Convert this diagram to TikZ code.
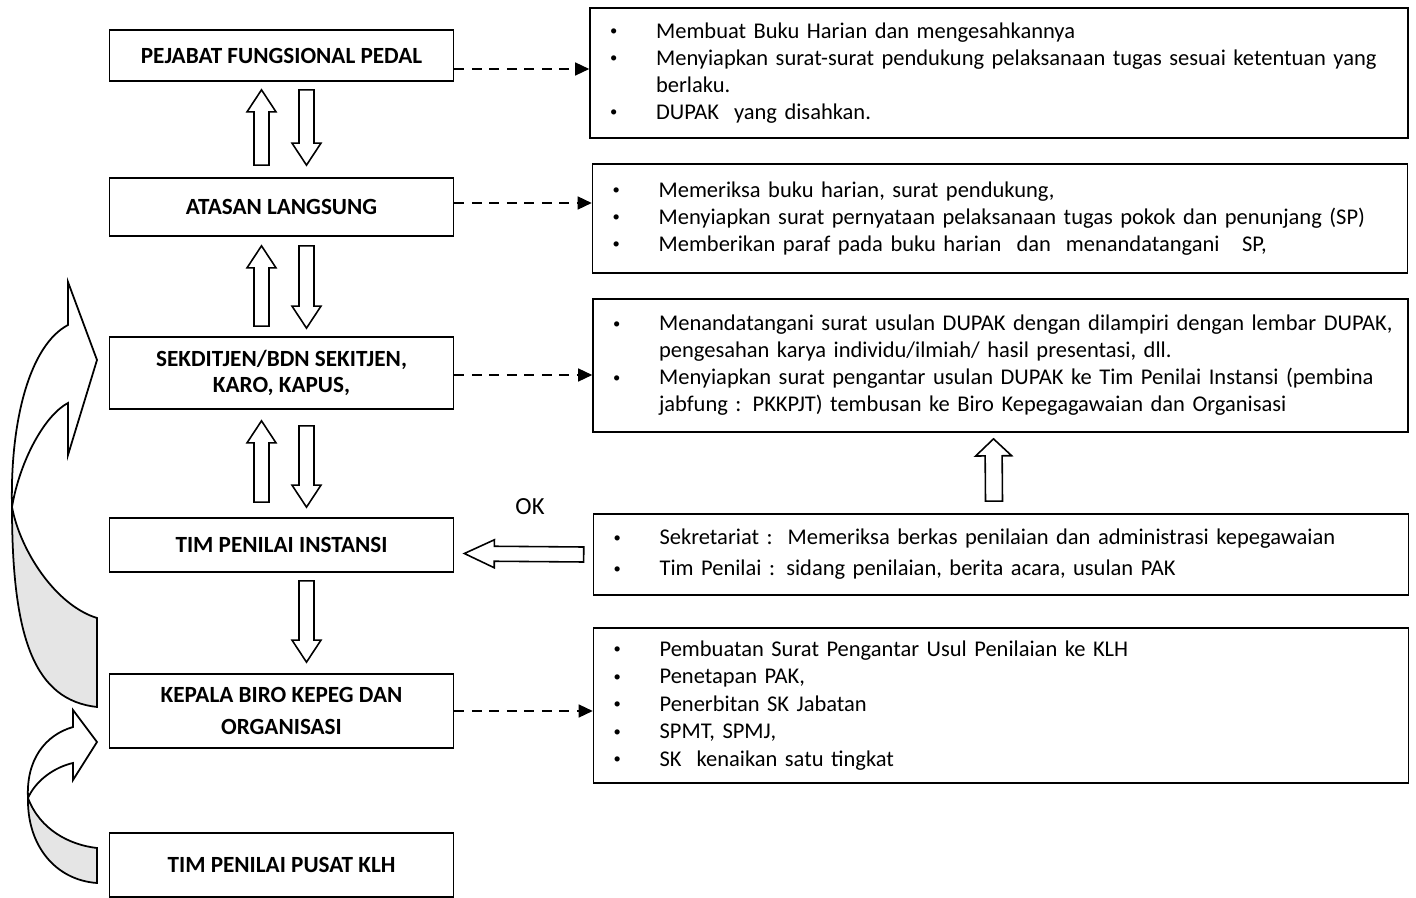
\documentclass[tikz,border=0pt]{standalone}
\usepackage{fontspec}
\usepackage{graphicx}
\setmainfont{Carlito}
\usetikzlibrary{arrows.meta,calc}
\newlength{\bulpre}\setlength{\bulpre}{0.4cm}
\newlength{\bulind}\setlength{\bulind}{1.32cm}
\newcommand{\bitem}[1]{\noindent\hangindent=\bulind\hangafter=1\makebox[\bulind][l]{\hspace{\bulpre}\raisebox{0.12em}{\scalebox{0.65}{\textbullet}}}#1\par}
\tikzset{
  leftbox/.style={rectangle,draw,line width=1pt,minimum width=6.88cm,align=center,font=\bfseries\fontsize{13.2}{15}\selectfont},
  rightbox/.style={rectangle,draw,line width=1pt,inner xsep=0pt,text width=16.3cm,align=left,font=\fontsize{12.8}{15.4}\selectfont},
  dasharrow/.style={draw,line width=0.8pt,dash pattern=on 0.2cm off 0.15cm,-{Triangle[length=0.28cm,width=0.26cm]}},
  blockarrow/.style n args={3}{draw,fill=white,line width=0.9pt,
    to path={($(\tikztostart)!#1!90:(\tikztotarget)$)
      -- ($($(\tikztotarget)!#3!(\tikztostart)$)!#1!90:(\tikztotarget)$)
      -- ($($(\tikztotarget)!#3!(\tikztostart)$)!#2!90:(\tikztotarget)$)
      -- (\tikztotarget)
      -- ($($(\tikztotarget)!#3!(\tikztostart)$)!#2!-90:(\tikztotarget)$)
      -- ($($(\tikztotarget)!#3!(\tikztostart)$)!#1!-90:(\tikztotarget)$)
      -- ($(\tikztostart)!#1!-90:(\tikztotarget)$) -- cycle}},
  barrow/.style={blockarrow={0.15cm}{0.29cm}{0.44cm}},
  curvefront/.style={draw,fill=white,line width=1pt},
  curveback/.style={draw,fill=gray!20,line width=1pt}
}
\begin{document}
\begin{tikzpicture}[x=0.02cm,y=-0.02cm]
\useasboundingbox (0,0) rectangle (1416,898);
% left column
\node[leftbox,minimum height=1.02cm] (pejabat) at (281.5,55.5) {PEJABAT FUNGSIONAL PEDAL};
\node[leftbox,minimum height=1.16cm] (atasan) at (281.5,207) {ATASAN LANGSUNG};
\node[leftbox,minimum height=1.44cm,font=\bfseries\fontsize{13.2}{14.8}\selectfont] (sekditjen) at (281.5,373) {SEKDITJEN/BDN SEKITJEN,\\KARO, KAPUS,};
\node[leftbox,minimum height=1.08cm] (tpi) at (281.5,545) {TIM PENILAI INSTANSI};
\node[leftbox,minimum height=1.48cm,font=\bfseries\fontsize{13.2}{18.2}\selectfont] (kepala) at (281.5,711) {KEPALA BIRO KEPEG DAN\\ORGANISASI};
\node[leftbox,minimum height=1.28cm] (pusat) at (281.5,865) {TIM PENILAI PUSAT KLH};
% right column
\node[rightbox,text width=16.36cm,minimum height=2.6cm] (r1) at (999,73) {%
\bitem{Membuat Buku Harian dan mengesahkannya}
\bitem{Menyiapkan surat-surat pendukung pelaksanaan tugas sesuai ketentuan yang\newline berlaku.}
\bitem{DUPAK\ \ yang disahkan.}};
\node[rightbox,minimum height=2.18cm] (r2) at (1000,218.5) {%
\bitem{Memeriksa buku harian, surat pendukung,}
\bitem{Menyiapkan surat pernyataan pelaksanaan tugas pokok dan penunjang (SP)}
\bitem{Memberikan paraf pada buku harian\ \ dan\ \ menandatangani\ \ \ SP,}};
\node[rightbox,minimum height=2.66cm] (r3) at (1000.5,365.5) {%
\bitem{Menandatangani surat usulan DUPAK dengan dilampiri dengan lembar DUPAK,\newline pengesahan karya individu/ilmiah/ hasil presentasi, dll.}
\bitem{Menyiapkan surat pengantar usulan DUPAK ke Tim Penilai Instansi (pembina\newline jabfung : PKKPJT) tembusan ke Biro Kepegagawaian dan Organisasi}};
\node[rightbox,minimum height=1.62cm,font=\fontsize{12.8}{17.6}\selectfont] (r4) at (1001,554.5) {%
\bitem{Sekretariat :\ \ Memeriksa berkas penilaian dan administrasi kepegawaian}
\bitem{Tim Penilai : sidang penilaian, berita acara, usulan PAK}};
\node[rightbox,minimum height=3.1cm,font=\fontsize{12.8}{15.7}\selectfont] (r5) at (1001,705.5) {%
\bitem{Pembuatan Surat Pengantar Usul Penilaian ke KLH}
\bitem{Penetapan PAK,}
\bitem{Penerbitan SK Jabatan}
\bitem{SPMT, SPMJ,}
\bitem{SK\ \ kenaikan satu tingkat}};
\node[font=\fontsize{14}{15}\selectfont] (ok) at (530,507) {OK};
% block arrows between the left boxes
\draw[barrow] ([xshift=-0.4cm,yshift=0.24cm]atasan.north) to ([xshift=-0.4cm,yshift=-0.16cm]pejabat.south);
\draw[barrow] ([xshift=0.5cm,yshift=-0.16cm]pejabat.south) to ([xshift=0.5cm,yshift=0.24cm]atasan.north);
\draw[barrow] ([xshift=-0.4cm,yshift=0.2cm]sekditjen.north) to ([xshift=-0.4cm,yshift=-0.18cm]atasan.south);
\draw[barrow] ([xshift=0.5cm,yshift=-0.18cm]atasan.south) to ([xshift=0.5cm,yshift=0.16cm]sekditjen.north);
\draw[barrow] ([xshift=-0.4cm,yshift=0.3cm]tpi.north) to ([xshift=-0.4cm,yshift=-0.22cm]sekditjen.south);
\draw[barrow] ([xshift=0.5cm,yshift=-0.32cm]sekditjen.south) to ([xshift=0.5cm,yshift=0.2cm]tpi.north);
\draw[barrow] ([xshift=0.5cm,yshift=-0.16cm]tpi.south) to ([xshift=0.5cm,yshift=0.22cm]kepala.north);
\draw[blockarrow={0.15cm}{0.28cm}{0.6cm}] ([xshift=-0.18cm]r4.west) to ([xshift=0.2cm,yshift=-0.17cm]tpi.east);
\draw[blockarrow={0.17cm}{0.36cm}{0.34cm}] ([xshift=-0.14cm,yshift=0.24cm]r4.north) to ([xshift=-0.14cm,yshift=-0.12cm]r3.south);
% dashed links
\draw[dasharrow] ([yshift=-0.27cm]pejabat.east) -- ([yshift=-0.27cm]pejabat.east -| r1.west);
\draw[dasharrow] ([yshift=0.08cm]atasan.east) -- ([yshift=0.08cm]atasan.east -| r2.west);
\draw[dasharrow] ([yshift=-0.04cm]sekditjen.east) -- ([yshift=-0.04cm]sekditjen.east -| r3.west);
\draw[dasharrow] (kepala.east) -- (kepala.east -| r5.west);
% curved arrows
\draw[curveback] (12,507) .. controls (20,550) and (55,605) .. (97,618) -- (97,707) .. controls (35,700) and (12,640) .. (12,507) -- cycle;
\draw[curvefront] (12,507) .. controls (10,420) and (30,345) .. (68,325) -- (68,282) -- (97,360) -- (68,455) -- (68,403) .. controls (45,415) and (20,460) .. (12,507) -- cycle;
\draw[curveback] (28,798) .. controls (40,830) and (70,845) .. (97,848) -- (97,883) .. controls (55,880) and (27,845) .. (28,798) -- cycle;
\draw[curvefront] (28,798) .. controls (26,760) and (45,735) .. (73,727) -- (73,710) -- (97,742) -- (73,780) -- (73,763) .. controls (55,767) and (36,780) .. (28,798) -- cycle;
\end{tikzpicture}
\end{document}
